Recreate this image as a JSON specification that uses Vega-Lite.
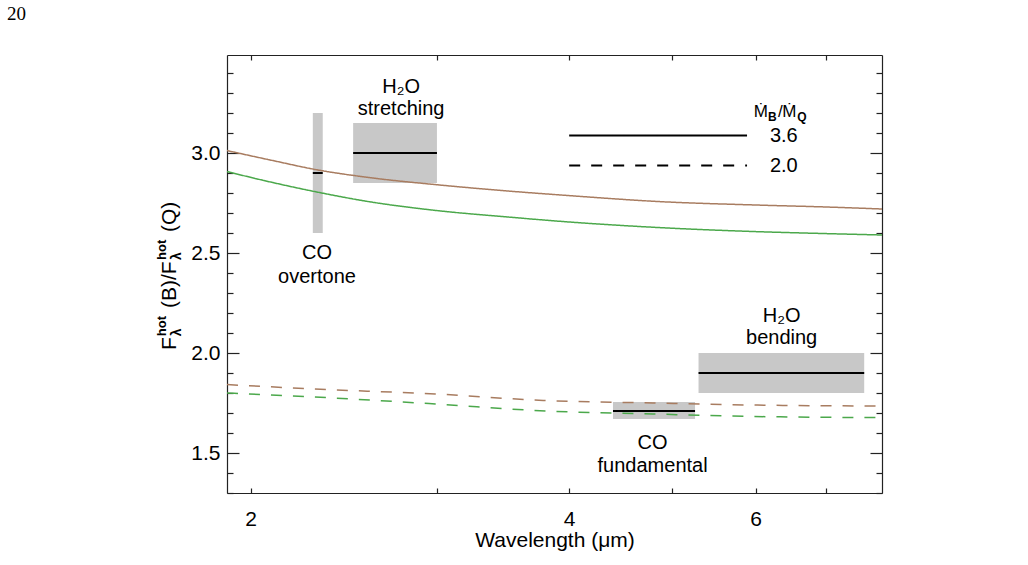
{
  "$schema": "https://vega.github.io/schema/vega-lite/v6.json",
  "width": 655,
  "height": 438,
  "autosize": {"type": "none"},
  "padding": {"left": 227, "top": 55, "right": 146, "bottom": 72},
  "background": "white",
  "title": {
    "text": "20",
    "anchor": "start",
    "frame": "group",
    "dx": -220,
    "offset": 15,
    "baseline": "alphabetic",
    "font": "Liberation Serif",
    "fontSize": 19,
    "fontWeight": "normal",
    "color": "black"
  },
  "config": {
    "view": {"stroke": null},
    "font": "Liberation Sans",
    "text": {"font": "Liberation Sans", "color": "black"},
    "axis": {
      "grid": false,
      "domainColor": "#222",
      "domainWidth": 1.2,
      "tickColor": "#222",
      "tickWidth": 1.2,
      "labelColor": "black",
      "titleColor": "black",
      "labelFont": "Liberation Sans",
      "titleFont": "Liberation Sans",
      "labelFontSize": 21,
      "titleFontSize": 21,
      "titleFontWeight": "normal",
      "labelOverlap": false,
      "labelFlush": false
    }
  },
  "datasets": {
    "bands": [
      {"band": "CO overtone", "wl_lo": 2.29, "wl_hi": 2.34, "lo": 2.6, "hi": 3.2, "mid": 2.9},
      {"band": "H2O stretching", "wl_lo": 2.5, "wl_hi": 3.0, "lo": 2.85, "hi": 3.15, "mid": 3.0},
      {"band": "CO fundamental", "wl_lo": 4.4, "wl_hi": 5.26, "lo": 1.67, "hi": 1.755, "mid": 1.71},
      {"band": "H2O bending", "wl_lo": 5.3, "wl_hi": 7.6, "lo": 1.8, "hi": 2.0, "mid": 1.9}
    ],
    "models": [
      {"series": "a", "mdot": "3.6", "wl": 1.9, "ratio": 3.012},
      {"series": "a", "mdot": "3.6", "wl": 2.1, "ratio": 2.962},
      {"series": "a", "mdot": "3.6", "wl": 2.3, "ratio": 2.918},
      {"series": "a", "mdot": "3.6", "wl": 2.6, "ratio": 2.876},
      {"series": "a", "mdot": "3.6", "wl": 2.99, "ratio": 2.842},
      {"series": "a", "mdot": "3.6", "wl": 3.5, "ratio": 2.81},
      {"series": "a", "mdot": "3.6", "wl": 4.0, "ratio": 2.787},
      {"series": "a", "mdot": "3.6", "wl": 4.87, "ratio": 2.757},
      {"series": "a", "mdot": "3.6", "wl": 6.0, "ratio": 2.74},
      {"series": "a", "mdot": "3.6", "wl": 7.0, "ratio": 2.73},
      {"series": "a", "mdot": "3.6", "wl": 7.9, "ratio": 2.72},
      {"series": "b", "mdot": "3.6", "wl": 1.9, "ratio": 2.907},
      {"series": "b", "mdot": "3.6", "wl": 2.1, "ratio": 2.852},
      {"series": "b", "mdot": "3.6", "wl": 2.3, "ratio": 2.807},
      {"series": "b", "mdot": "3.6", "wl": 2.6, "ratio": 2.755},
      {"series": "b", "mdot": "3.6", "wl": 2.99, "ratio": 2.713},
      {"series": "b", "mdot": "3.6", "wl": 3.5, "ratio": 2.68},
      {"series": "b", "mdot": "3.6", "wl": 4.0, "ratio": 2.655},
      {"series": "b", "mdot": "3.6", "wl": 4.87, "ratio": 2.627},
      {"series": "b", "mdot": "3.6", "wl": 6.0, "ratio": 2.607},
      {"series": "b", "mdot": "3.6", "wl": 7.0, "ratio": 2.597},
      {"series": "b", "mdot": "3.6", "wl": 7.9, "ratio": 2.59},
      {"series": "a", "mdot": "2.0", "wl": 1.9, "ratio": 1.842},
      {"series": "a", "mdot": "2.0", "wl": 2.3, "ratio": 1.82},
      {"series": "a", "mdot": "2.0", "wl": 2.99, "ratio": 1.795},
      {"series": "a", "mdot": "2.0", "wl": 3.78, "ratio": 1.763},
      {"series": "a", "mdot": "2.0", "wl": 4.8, "ratio": 1.75},
      {"series": "a", "mdot": "2.0", "wl": 5.93, "ratio": 1.74},
      {"series": "a", "mdot": "2.0", "wl": 7.9, "ratio": 1.735},
      {"series": "b", "mdot": "2.0", "wl": 1.9, "ratio": 1.8},
      {"series": "b", "mdot": "2.0", "wl": 2.3, "ratio": 1.78},
      {"series": "b", "mdot": "2.0", "wl": 2.99, "ratio": 1.745},
      {"series": "b", "mdot": "2.0", "wl": 3.8, "ratio": 1.71},
      {"series": "b", "mdot": "2.0", "wl": 4.8, "ratio": 1.695},
      {"series": "b", "mdot": "2.0", "wl": 5.93, "ratio": 1.683},
      {"series": "b", "mdot": "2.0", "wl": 7.9, "ratio": 1.677}
    ],
    "key": [
      {"mdot": "3.6", "wl": 4.0, "wl_end": 5.89, "wl_text": 6.19, "ratio": 3.087},
      {"mdot": "2.0", "wl": 4.0, "wl_end": 5.89, "wl_text": 6.19, "ratio": 2.937}
    ],
    "keytitle": [
      {"part": "main", "t": "Ṁ", "wl": 5.978, "ratio": 3.18},
      {"part": "sub", "t": "B", "wl": 6.166, "ratio": 3.18},
      {"part": "main", "t": "/", "wl": 6.3, "ratio": 3.18},
      {"part": "main", "t": "Ṁ", "wl": 6.36, "ratio": 3.18},
      {"part": "sub", "t": "Q", "wl": 6.57, "ratio": 3.18}
    ],
    "notes": [
      {"label": "CO", "wl": 2.311, "ratio": 2.5},
      {"label": "overtone", "wl": 2.311, "ratio": 2.378},
      {"label": "H₂O", "wl": 2.775, "ratio": 3.33},
      {"label": "stretching", "wl": 2.775, "ratio": 3.22},
      {"label": "CO", "wl": 4.796, "ratio": 1.55},
      {"label": "fundamental", "wl": 4.796, "ratio": 1.437},
      {"label": "H₂O", "wl": 6.35, "ratio": 2.185},
      {"label": "bending", "wl": 6.35, "ratio": 2.075}
    ],
    "ylab": [
      {"part": "main", "t": "F", "wl": 1.70, "ratio": 2.015},
      {"part": "sup", "t": "hot", "wl": 1.70, "ratio": 2.084},
      {"part": "sub", "t": "λ", "wl": 1.70, "ratio": 2.084},
      {"part": "main", "t": "(B)/F", "wl": 1.70, "ratio": 2.225},
      {"part": "sup", "t": "hot", "wl": 1.70, "ratio": 2.465},
      {"part": "sub", "t": "λ", "wl": 1.70, "ratio": 2.465},
      {"part": "main", "t": "(Q)", "wl": 1.70, "ratio": 2.605}
    ]
  },
  "layer": [
    {
      "data": {"name": "bands"},
      "mark": {"type": "rect", "color": "#c8c8c8"},
      "encoding": {
        "x": {
          "field": "wl_lo", "type": "quantitative",
          "scale": {"type": "log", "domain": [1.9, 7.9], "nice": false},
          "axis": {
            "orient": "bottom",
            "values": [2, 3, 4, 5, 6, 7],
            "labelExpr": "datum.value % 2 === 0 ? datum.label : ''",
            "tickSize": -5,
            "labelPadding": 20,
            "title": "Wavelength (μm)",
            "titlePadding": 0
          }
        },
        "x2": {"field": "wl_hi"},
        "y": {
          "field": "lo", "type": "quantitative",
          "scale": {"domain": [1.3, 3.49], "nice": false, "zero": false},
          "axis": {
            "orient": "left",
            "values": [1.3, 1.4, 1.5, 1.6, 1.7, 1.8, 1.9, 2.0, 2.1, 2.2, 2.3, 2.4, 2.5, 2.6, 2.7, 2.8, 2.9, 3.0, 3.1, 3.2, 3.3, 3.4],
            "labelExpr": "abs(datum.value * 2 - round(datum.value * 2)) < 0.000001 ? format(datum.value, '.1f') : ''",
            "tickSize": {"condition": {"test": "abs(datum.value * 2 - round(datum.value * 2)) < 0.000001", "value": -12}, "value": -6},
            "labelPadding": 19,
            "title": null
          }
        },
        "y2": {"field": "hi"}
      }
    },
    {
      "data": {"name": "models"},
      "mark": {"type": "line", "strokeWidth": 1.5, "interpolate": "monotone"},
      "encoding": {
        "x": {"field": "wl", "type": "quantitative", "scale": {"type": "log", "domain": [1.9, 7.9], "nice": false}, "axis": null},
        "y": {"field": "ratio", "type": "quantitative", "scale": {"domain": [1.3, 3.49], "nice": false, "zero": false}, "axis": null},
        "color": {"field": "series", "type": "nominal", "scale": {"domain": ["a", "b"], "range": ["#a87c60", "#4ba84b"]}, "legend": null},
        "strokeDash": {"field": "mdot", "type": "nominal", "scale": {"domain": ["3.6", "2.0"], "range": [[1, 0], [11, 11]]}, "legend": null}
      }
    },
    {
      "data": {"name": "bands"},
      "mark": {"type": "rule", "color": "black", "strokeWidth": 2},
      "encoding": {
        "x": {
          "field": "wl_lo", "type": "quantitative",
          "scale": {"type": "log", "domain": [1.9, 7.9], "nice": false},
          "axis": {"orient": "top", "values": [2, 3, 4, 5, 6, 7], "labels": false, "tickSize": -5, "title": null}
        },
        "x2": {"field": "wl_hi"},
        "y": {
          "field": "mid", "type": "quantitative",
          "scale": {"domain": [1.3, 3.49], "nice": false, "zero": false},
          "axis": {
            "orient": "right",
            "values": [1.3, 1.4, 1.5, 1.6, 1.7, 1.8, 1.9, 2.0, 2.1, 2.2, 2.3, 2.4, 2.5, 2.6, 2.7, 2.8, 2.9, 3.0, 3.1, 3.2, 3.3, 3.4],
            "labels": false,
            "tickSize": {"condition": {"test": "abs(datum.value * 2 - round(datum.value * 2)) < 0.000001", "value": -12}, "value": -6},
            "title": null
          }
        }
      }
    },
    {
      "data": {"name": "key"},
      "mark": {"type": "rule", "color": "black", "strokeWidth": 2},
      "encoding": {
        "x": {"field": "wl", "type": "quantitative", "scale": {"type": "log", "domain": [1.9, 7.9], "nice": false}, "axis": null},
        "x2": {"field": "wl_end"},
        "y": {"field": "ratio", "type": "quantitative", "scale": {"domain": [1.3, 3.49], "nice": false, "zero": false}, "axis": null},
        "strokeDash": {"field": "mdot", "type": "nominal", "scale": {"domain": ["3.6", "2.0"], "range": [[1, 0], [11, 11]]}, "legend": null}
      }
    },
    {
      "data": {"name": "key"},
      "mark": {"type": "text", "align": "left", "baseline": "middle", "fontSize": 20},
      "encoding": {
        "x": {"field": "wl_text", "type": "quantitative", "scale": {"type": "log", "domain": [1.9, 7.9], "nice": false}, "axis": null},
        "y": {"field": "ratio", "type": "quantitative", "scale": {"domain": [1.3, 3.49], "nice": false, "zero": false}, "axis": null},
        "text": {"field": "mdot"}
      }
    },
    {
      "data": {"name": "keytitle"},
      "transform": [{"filter": "datum.part === 'main'"}],
      "mark": {"type": "text", "align": "left", "baseline": "alphabetic", "fontSize": 17},
      "encoding": {
        "x": {"field": "wl", "type": "quantitative", "scale": {"type": "log", "domain": [1.9, 7.9], "nice": false}, "axis": null},
        "y": {"field": "ratio", "type": "quantitative", "scale": {"domain": [1.3, 3.49], "nice": false, "zero": false}, "axis": null},
        "text": {"field": "t"}
      }
    },
    {
      "data": {"name": "keytitle"},
      "transform": [{"filter": "datum.part === 'sub'"}],
      "mark": {"type": "text", "align": "left", "baseline": "alphabetic", "fontSize": 12, "fontWeight": "bold", "dy": 4},
      "encoding": {
        "x": {"field": "wl", "type": "quantitative", "scale": {"type": "log", "domain": [1.9, 7.9], "nice": false}, "axis": null},
        "y": {"field": "ratio", "type": "quantitative", "scale": {"domain": [1.3, 3.49], "nice": false, "zero": false}, "axis": null},
        "text": {"field": "t"}
      }
    },
    {
      "data": {"name": "notes"},
      "mark": {"type": "text", "align": "center", "baseline": "middle", "fontSize": 20},
      "encoding": {
        "x": {"field": "wl", "type": "quantitative", "scale": {"type": "log", "domain": [1.9, 7.9], "nice": false}, "axis": null},
        "y": {"field": "ratio", "type": "quantitative", "scale": {"domain": [1.3, 3.49], "nice": false, "zero": false}, "axis": null},
        "text": {"field": "label"}
      }
    },
    {
      "data": {"name": "ylab"},
      "transform": [{"filter": "datum.part === 'main'"}],
      "mark": {"type": "text", "align": "left", "baseline": "alphabetic", "angle": 270, "fontSize": 21},
      "encoding": {
        "x": {"field": "wl", "type": "quantitative", "scale": {"type": "log", "domain": [1.9, 7.9], "nice": false}, "axis": null},
        "y": {"field": "ratio", "type": "quantitative", "scale": {"domain": [1.3, 3.49], "nice": false, "zero": false}, "axis": null},
        "text": {"field": "t"}
      }
    },
    {
      "data": {"name": "ylab"},
      "transform": [{"filter": "datum.part === 'sup'"}],
      "mark": {"type": "text", "align": "left", "baseline": "alphabetic", "angle": 270, "fontSize": 13, "fontWeight": "bold", "dy": -10},
      "encoding": {
        "x": {"field": "wl", "type": "quantitative", "scale": {"type": "log", "domain": [1.9, 7.9], "nice": false}, "axis": null},
        "y": {"field": "ratio", "type": "quantitative", "scale": {"domain": [1.3, 3.49], "nice": false, "zero": false}, "axis": null},
        "text": {"field": "t"}
      }
    },
    {
      "data": {"name": "ylab"},
      "transform": [{"filter": "datum.part === 'sub'"}],
      "mark": {"type": "text", "align": "left", "baseline": "alphabetic", "angle": 270, "fontSize": 14, "fontWeight": "bold", "dy": 5},
      "encoding": {
        "x": {"field": "wl", "type": "quantitative", "scale": {"type": "log", "domain": [1.9, 7.9], "nice": false}, "axis": null},
        "y": {"field": "ratio", "type": "quantitative", "scale": {"domain": [1.3, 3.49], "nice": false, "zero": false}, "axis": null},
        "text": {"field": "t"}
      }
    }
  ],
  "resolve": {"axis": {"x": "independent", "y": "independent"}}
}
